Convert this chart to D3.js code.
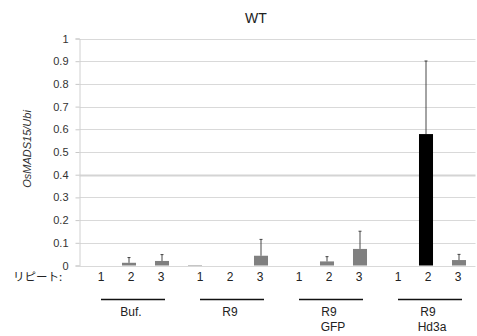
<!DOCTYPE html>
<html><head><meta charset="utf-8">
<script src="https://cdn.jsdelivr.net/npm/d3@7"></script>
<style>body{margin:0;background:#fff}svg{display:block}</style>
</head><body>
<svg id="c" width="477" height="336"></svg>
<script>
const groups = ["Buf.", "R9", "R9\nGFP", "R9\nHd3a"];
const repeats = ["1", "2", "3"];
const values = [0, 0.012, 0.02, 0.002, 0, 0.043, 0, 0.018, 0.073, 0, 0.579, 0.024];
const errors = [0, 0.023, 0.028, 0, 0, 0.072, 0, 0.021, 0.078, 0, 0.322, 0.025];
const barColors = ["#808080","#808080","#808080","#808080","#808080","#808080","#808080","#808080","#808080","#808080","#000000","#808080"];
const yTicks = [0,0.1,0.2,0.3,0.4,0.5,0.6,0.7,0.8,0.9,1];
const yTickLabels = ["0","0.1","0.2","0.3","0.4","0.5","0.6","0.7","0.8","0.9","1"];
const title = "WT";
const yLabel = "OsMADS15/Ubi";
const rowLabel = "リピート:";

const svg = d3.select("#c");
const L = 79.5, R = 475.5, T = 38.5, B = 265.5;
const keys = values.map((v,i)=>i);
const x = d3.scaleBand().domain(keys).range([L,R]).paddingInner(0.575).paddingOuter(0.2875);
const y = d3.scaleLinear().domain([0,1]).range([B,T]);
const font = "'Liberation Sans', Arial, sans-serif";

// gridlines
svg.append("g").selectAll("line").data(yTicks).join("line")
  .attr("x1", L).attr("x2", R)
  .attr("y1", d=>Math.round(y(d))+0.5).attr("y2", d=>Math.round(y(d))+0.5)
  .attr("stroke", d=> d===0.4 ? "#d4d4d4" : "#d9d9d9").attr("stroke-width", d=> d===0.4 ? 2 : 1.2);

// y axis
const yAxis = d3.axisLeft(y).tickValues(yTicks).tickFormat((d,i)=>yTickLabels[i]).tickSize(4).tickPadding(7);
const ga = svg.append("g").attr("transform",`translate(${L},0)`).call(yAxis);
ga.select(".domain").attr("stroke","#d0d0d0");
ga.selectAll(".tick line").attr("stroke","#c8c8c8");
ga.selectAll(".tick text").attr("font-family",font).attr("font-size",11).attr("fill","#333");

// bars
const cx = i => x(i) + x.bandwidth()/2;
svg.append("g").selectAll("rect").data(values).join("rect")
  .attr("x",(d,i)=>x(i)).attr("width",x.bandwidth())
  .attr("y",d=>y(d)).attr("height",d=>B-y(d))
  .attr("fill",(d,i)=>barColors[i]);

// error bars (upper only)
const eb = svg.append("g").attr("stroke","#333").attr("stroke-width",0.9);
values.forEach((v,i)=>{
  if(!errors[i]) return;
  const xx = cx(i), y0 = y(v), y1 = y(v+errors[i]);
  eb.append("line").attr("x1",xx).attr("x2",xx).attr("y1",y0).attr("y2",y1);
  eb.append("line").attr("x1",xx-1.5).attr("x2",xx+1.5).attr("y1",y1).attr("y2",y1);
});

// repeat labels
const lab = svg.append("g").attr("font-family",font).attr("font-size",12).attr("fill","#222").attr("text-anchor","middle");
groups.forEach((g,gi)=>{
  const mid = cx(gi*3+1);
  repeats.forEach((r,ri)=>{
    lab.append("text").attr("x", mid+2+(ri-1)*30).attr("y",281).text(r);
  });
  const c = mid + 4;
  svg.append("line").attr("x1",c-32).attr("x2",c+32).attr("y1",299.5).attr("y2",299.5)
    .attr("stroke","#111").attr("stroke-width",1.3);
  const lines = g.split("\n");
  lines.forEach((t,li)=>{
    lab.append("text").attr("x", c + (li===1 ? 2 : -2)).attr("y", 316 + li*15).text(t);
  });
});

svg.append("text").attr("x",13).attr("y",281).attr("font-family","'Noto Sans CJK JP', sans-serif")
  .attr("font-size",11.5).attr("fill","#222").text(rowLabel);

svg.append("text").attr("x",256).attr("y",23).attr("text-anchor","middle")
  .attr("font-family",font).attr("font-size",14).attr("fill","#222").text(title);

svg.append("text").attr("transform","translate(31,149) rotate(-90)").attr("text-anchor","middle")
  .attr("font-family",font).attr("font-size",11).attr("font-style","italic").attr("fill","#333").text(yLabel);
</script>
</body></html>
